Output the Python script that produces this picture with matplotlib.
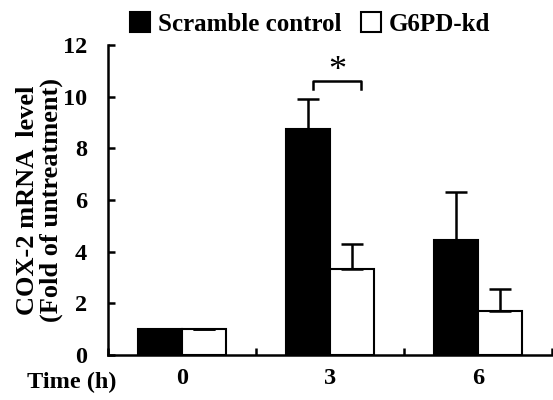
import numpy as np
import matplotlib
matplotlib.use("Agg")
import matplotlib.pyplot as plt

times = ["0", "3", "6"]
scramble = [1.0, 8.75, 4.45]
scramble_err = [0.0, 1.15, 1.85]
g6pd = [1.0, 3.33, 1.7]
g6pd_err = [0.0, 0.95, 0.85]

plt.rcParams["font.family"] = ["Liberation Serif"]
plt.rcParams["font.weight"] = "bold"

fig = plt.figure(figsize=(5.53, 4.0), dpi=100)
ax = fig.add_axes([0.1953, 0.1125, 0.803, 0.775])

x = np.arange(len(times))
w = 0.3
ax.bar(x - w / 2, scramble, w, color="black", edgecolor="black", linewidth=1.5,
       yerr=[np.zeros(3), scramble_err], capsize=8,
       error_kw=dict(elinewidth=1.8, capthick=1.8, ecolor="black"),
       label="Scramble control")
ax.bar(x + w / 2, g6pd, w, color="white", edgecolor="black", linewidth=1.5,
       yerr=[np.zeros(3), g6pd_err], capsize=8,
       error_kw=dict(elinewidth=1.8, capthick=1.8, ecolor="black"),
       label="G6PD-kd")

# significance bracket
ax.plot([0.885, 0.885, 1.21, 1.21], [10.3, 10.6, 10.6, 10.3], color="black",
        lw=1.8, clip_on=False)
ax.text(1.047, 10.35, "*", ha="center", va="bottom", fontsize=26,
        fontweight="normal")

ax.set_xlim(-0.5, 2.5)
ax.set_ylim(0, 12)
ax.set_yticks(range(0, 13, 2))
ax.set_xticks(x)
ax.set_xticklabels(times)
ax.set_xticks([-0.5, 0.5, 1.5, 2.5], minor=True)
ax.tick_params(axis="x", which="major", length=0, pad=9, labelsize=17.5)
ax.tick_params(axis="x", which="minor", direction="in", length=5, width=1.8)
ax.tick_params(axis="y", direction="in", length=5, width=1.8, labelsize=17.5, pad=15)
for s in ["top", "right"]:
    ax.spines[s].set_visible(False)
for s in ["left", "bottom"]:
    ax.spines[s].set_linewidth(1.8)

ax.set_ylabel("COX-2 mRNA  level\n(Fold of untreatment)", fontsize=19,
              fontweight="bold", labelpad=0, linespacing=1.0)
fig.text(0.129, 0.03, "Time (h)", ha="center", va="baseline", fontsize=17.5)

ax.legend(loc="lower left", bbox_to_anchor=(0.05, 1.03), ncol=2, frameon=False,
          fontsize=18, handlelength=0.8, handleheight=0.8, handletextpad=0.3,
          columnspacing=0.8, borderaxespad=0, borderpad=0)

fig.savefig("out.png", dpi=100)
